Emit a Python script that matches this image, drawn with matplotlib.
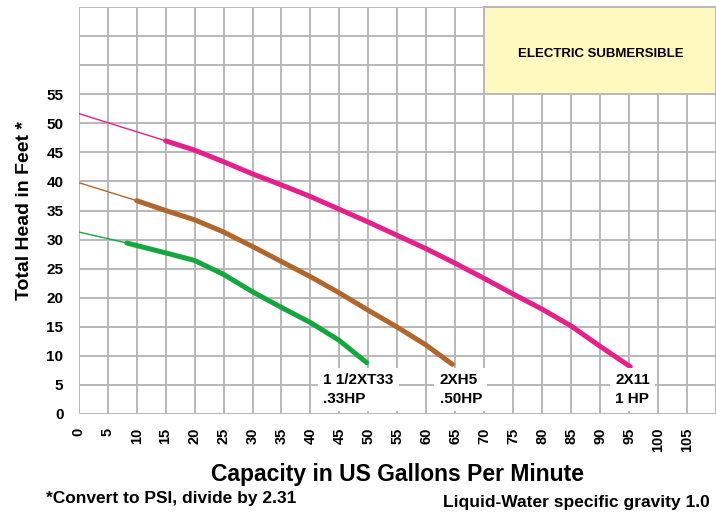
import numpy as np
import matplotlib
matplotlib.use("Agg")
import matplotlib.pyplot as plt
from matplotlib.patches import Rectangle

plt.rcParams['font.family'] = ['Liberation Sans', 'DejaVu Sans']
plt.rcParams['font.weight'] = 'bold'

# ---- data (GPM vs feet of head) ----
# first point = shut-off head (thin extension), rest = pump curve (thick)
q_2x11 = [0, 15, 20, 25, 30, 35, 40, 45, 50, 55, 60, 65, 70, 75, 80, 85, 90, 95.2]
h_2x11 = [51.7, 47.0, 45.4, 43.4, 41.3, 39.4, 37.4, 35.2, 33.0, 30.7, 28.4, 25.9,
          23.3, 20.6, 18.0, 15.1, 11.6, 8.1]

q_2xh5 = [0, 10, 15, 20, 25, 30, 35, 40, 45, 50, 55, 60, 64.5]
h_2xh5 = [39.8, 36.7, 35.0, 33.4, 31.3, 28.8, 26.2, 23.6, 20.8, 17.8, 14.9, 11.8, 8.5]

q_xt33 = [0, 8.3, 15, 20, 25, 30, 35, 40, 45, 49.7]
h_xt33 = [31.3, 29.4, 27.7, 26.4, 24.0, 21.0, 18.3, 15.7, 12.6, 8.8]

pumps = ["2X11\n1 HP", "2XH5\n.50HP", "1 1/2XT33\n.33HP"]
label_pos = [(92.6, 4.2), (62.3, 4.2), (42.2, 4.2)]
colors = ['#e4218b', '#b0672d', '#16a640']

xticks = list(range(0, 111, 5))
xticklabels = [str(v) if v <= 105 else '' for v in xticks]
yticks = list(range(0, 71, 5))
yticklabels = [str(v) if v <= 55 else '' for v in yticks]

fig = plt.figure(figsize=(7.16, 5.14), dpi=100)
ax = fig.add_axes([78.7 / 716, 1 - 413.7 / 514, 1 - 78.7 / 716, (413.7 - 7.3) / 514])
ax.set_xlim(0, 110)
ax.set_ylim(0, 70)

ax.set_xticks(xticks)
ax.set_xticklabels(xticklabels, rotation=90, fontsize=10.5, fontweight='bold')
ax.set_yticks(yticks)
ax.set_yticklabels(yticklabels, fontsize=11, fontweight='bold')
ax.tick_params(length=0)
ax.tick_params(axis='x', pad=10)
ax.tick_params(axis='y', pad=11)
ax.grid(True, color='#b8b8b8', lw=1.4)
ax.set_axisbelow(True)
for s in ax.spines.values():
    s.set_visible(False)

# yellow label box in the top-right corner
ax.add_patch(Rectangle((70, 55), 40, 15, facecolor='#fff8bf', edgecolor='#b8b8b8',
                       lw=1.4, zorder=1, clip_on=False))
ax.text(90.2, 62.0, 'ELECTRIC SUBMERSIBLE', ha='center', va='center',
        fontsize=9.5, fontweight='bold', zorder=2)

for q, h, c in zip([q_2x11, q_2xh5, q_xt33], [h_2x11, h_2xh5, h_xt33], colors):
    ax.plot(q[:2], h[:2], color=c, lw=1.0, zorder=3)
    ax.plot(q[1:], h[1:], color=c, lw=3.6, solid_capstyle='round',
            solid_joinstyle='round', zorder=3)

for name, (x, y) in zip(pumps, label_pos):
    ax.text(x, y, name, ha='left', va='center', fontsize=11, fontweight='bold',
            linespacing=1.4, zorder=4,
            bbox=dict(boxstyle='square,pad=0.35', facecolor='white', edgecolor='none'))

ax.set_xlabel('Capacity in US Gallons Per Minute', fontsize=16.5, fontweight='bold', labelpad=8)
ax.set_ylabel('Total Head in Feet *', fontsize=14, fontweight='bold', labelpad=10)

fig.text(46 / 716, 1 - 499 / 514, '*Convert to PSI, divide by 2.31', ha='left', va='center',
         fontsize=12.5, fontweight='bold')
fig.text(710 / 716, 1 - 502 / 514, 'Liquid-Water specific gravity 1.0', ha='right', va='center',
         fontsize=12.5, fontweight='bold')

fig.savefig('out.png', dpi=100)
